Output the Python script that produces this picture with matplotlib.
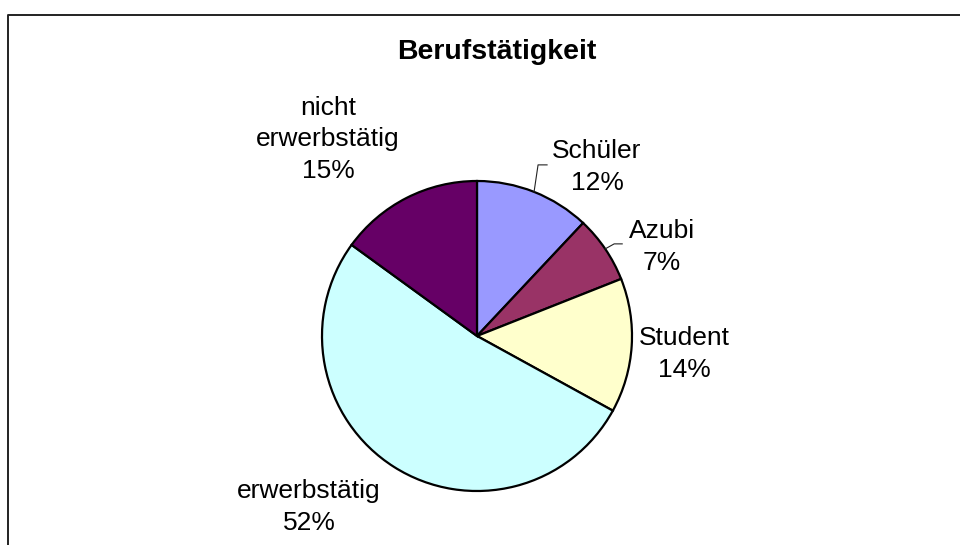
import numpy as np
import matplotlib.pyplot as plt

# data
categories = ['Schüler', 'Azubi', 'Student', 'erwerbstätig', 'nicht\nerwerbstätig']
shares = [12, 7, 14, 52, 15]
colors = ['#9999FF', '#993366', '#FFFFCC', '#CCFFFF', '#660066']
title = 'Berufstätigkeit'

plt.rcParams['font.family'] = ['Liberation Sans', 'DejaVu Sans']

fig = plt.figure(figsize=(9.6, 5.45), dpi=100)
ax = fig.add_axes([0, 0, 1, 1])

# pie in pixel-like coords (y up)
cx, cy, R = 477, 545 - 336, 155
wedges, _ = ax.pie(shares, colors=colors, startangle=90, counterclock=False,
                   center=(cx, cy), radius=R,
                   wedgeprops=dict(edgecolor='black', linewidth=1.6))

# label positions: x centre, baseline of last line (layout only)
label_pos = [(597, 545 - 190), (662, 545 - 270), (684, 545 - 377),
             (309, 545 - 530), (328, 545 - 178)]
for cat, val, (lx, ly) in zip(categories, shares, label_pos):
    ax.text(lx, ly, f'{cat}\n{val}%', ha='center', va='baseline',
            fontsize=19, linespacing=1.4, color='black')

# leader lines for the two small slices
for i, bend in [(0, (4, 27, 13)), (1, (9, 5, 17))]:
    w = wedges[i]
    mid = np.deg2rad((w.theta1 + w.theta2) / 2)
    x0, y0 = cx + R * np.cos(mid), cy + R * np.sin(mid)
    ax.plot([x0, x0 + bend[0], x0 + bend[2]], [y0, y0 + bend[1], y0 + bend[1]],
            color='#222222', lw=0.8)

ax.text(497, 545 - 52, title, ha='center', va='center', fontsize=20.5,
        fontweight='bold')

# chart frame (right and bottom edges lie outside the image)
ax.plot([8, 8, 990], [-20, 530, 530], color='#222222', lw=1.4)

ax.set_xlim(0, 960)
ax.set_ylim(0, 545)
ax.set_aspect('equal')
ax.axis('off')

fig.savefig('out.png', dpi=100)
